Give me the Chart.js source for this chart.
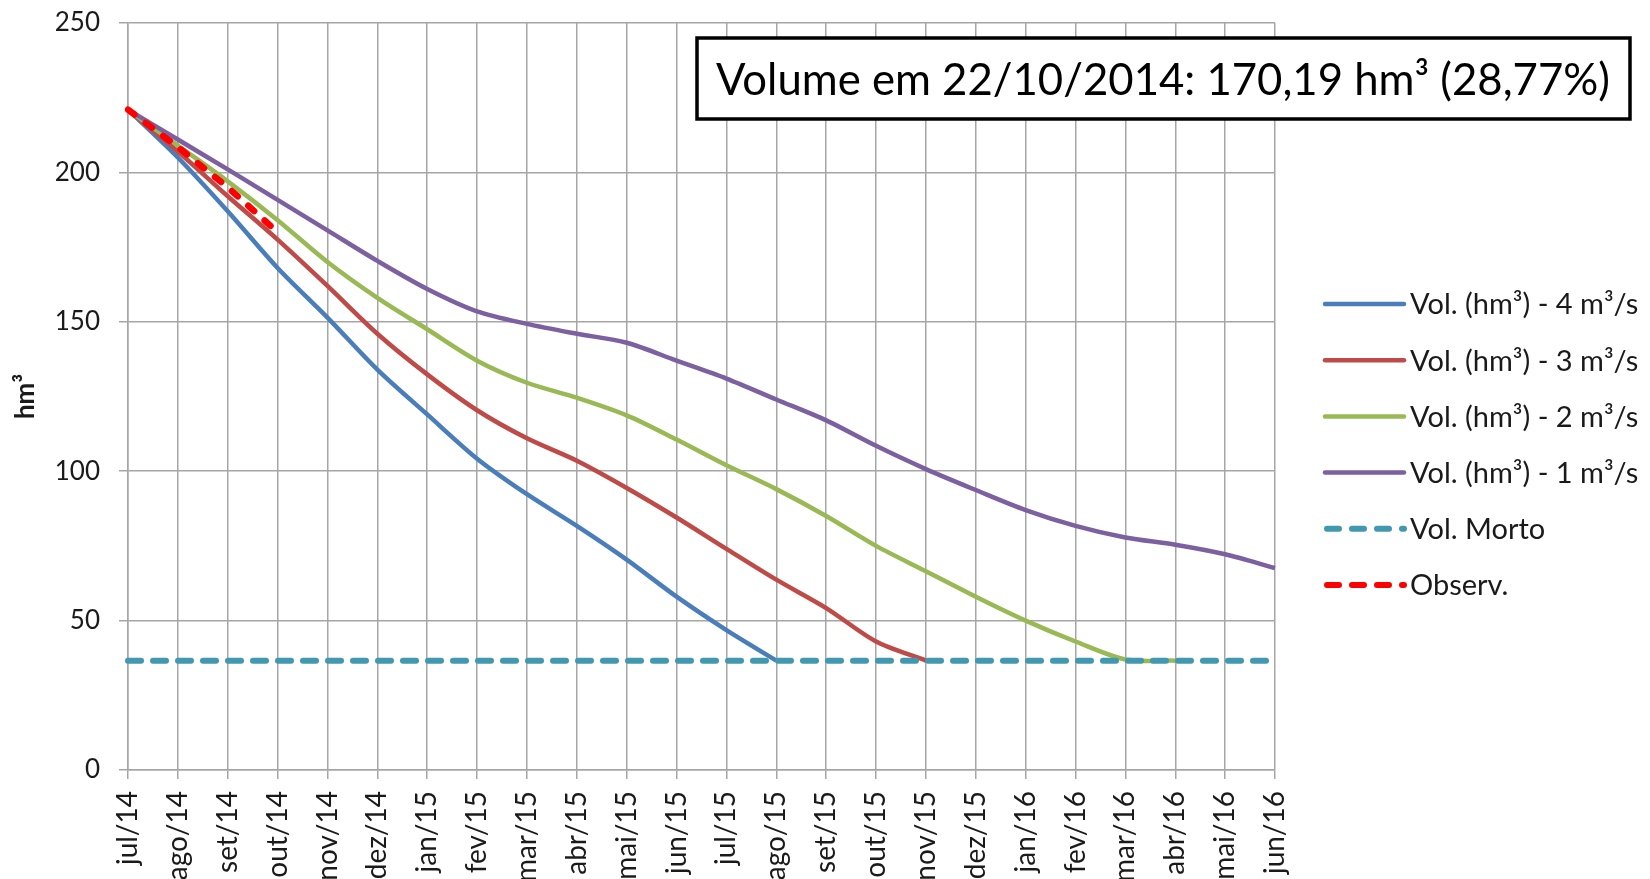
<!DOCTYPE html>
<html><head><meta charset="utf-8">
<script src="https://cdn.jsdelivr.net/npm/chart.js@4/dist/chart.umd.min.js"></script>
<style>html,body{margin:0;padding:0;background:#fff}#wrap{width:1650px;height:879px}</style>
</head><body><div id="wrap"><canvas id="c" width="1650" height="879"></canvas></div>
<script>
const categories = ["jul/14","ago/14","set/14","out/14","nov/14","dez/14","jan/15","fev/15","mar/15","abr/15","mai/15","jun/15","jul/15","ago/15","set/15","out/15","nov/15","dez/15","jan/16","fev/16","mar/16","abr/16","mai/16","jun/16"];
const vol4 = [221,205,187,168,151.4,134,119,104.2,92.3,81.7,70.4,58,46.8,36.6,null,null,null,null,null,null,null,null,null,null];
const vol3 = [221,207,192,177.5,162,146,132.4,120.4,111,103.5,94.4,84.5,74,63.7,54.2,43,36.6,null,null,null,null,null,null,null];
const vol2 = [221,209,197,184,170,158,147.5,137,129.6,124.6,118.7,110.6,102,94,85,75,66.5,58,50,43,37,36.6,null,null];
const vol1 = [221,211,201,190.8,180.6,170.4,161,153.5,149.3,146,143,137,131,124,117,108.5,100.7,93.7,87,81.7,77.8,75.4,72.2,67.6];
const volMorto = [36.6,36.6,36.6,36.6,36.6,36.6,36.6,36.6,36.6,36.6,36.6,36.6,36.6,36.6,36.6,36.6,36.6,36.6,36.6,36.6,36.6,36.6,36.6,36.6];
const observ = [221,208.5,195,180,null,null,null,null,null,null,null,null,null,null,null,null,null,null,null,null,null,null,null,null];
const yTicks = [0,50,100,150,200,250];
const seriesNames = ["Vol. (hm³) - 4 m³/s","Vol. (hm³) - 3 m³/s","Vol. (hm³) - 2 m³/s","Vol. (hm³) - 1 m³/s","Vol. Morto","Observ."];
const annotationText = "Volume em 22/10/2014: 170,19 hm³ (28,77%)";
const yTitle = "hm³";

const FONT = "Lato, 'Open Sans', sans-serif";
const TXT = "#1a1a1a";

function ds(label, data, color, dash, width, order){
  return {label, data, borderColor: color, backgroundColor: color, borderWidth: width,
    borderDash: dash || [], borderCapStyle: dash ? 'round' : 'butt', pointRadius: 0, pointHoverRadius: 0,
    tension: dash ? 0 : 0.3, fill: false, spanGaps: false, order};
}

const extras = {
  id: 'extras',
  afterDraw(chart){
    const ctx = chart.ctx;
    const ca = chart.chartArea;
    // y title
    ctx.save();
    ctx.translate(26, (ca.top + ca.bottom) / 2);
    ctx.rotate(-Math.PI/2);
    ctx.font = "bold 26px " + FONT;
    ctx.fillStyle = TXT;
    ctx.textAlign = 'center';
    ctx.textBaseline = 'middle';
    ctx.fillText(yTitle, 0, 0);
    ctx.restore();
    // legend
    ctx.save();
    const rowY0 = 304, rowStep = 56.2;
    chart.data.datasets.forEach((d, i) => {
      const y = rowY0 + i*rowStep;
      ctx.beginPath();
      ctx.strokeStyle = d.borderColor;
      ctx.lineWidth = d.borderDash.length ? 6 : 4.5;
      ctx.lineCap = 'round';
      ctx.setLineDash(d.borderDash.length ? [12, 13] : []);
      ctx.moveTo(d.borderDash.length ? 1327 : 1325, y);
      ctx.lineTo(1404, y);
      ctx.stroke();
      ctx.setLineDash([]);
      ctx.font = "29px " + FONT;
      ctx.fillStyle = TXT;
      ctx.textAlign = 'left';
      ctx.textBaseline = 'middle';
      ctx.fillText(d.label, 1410, y + 1);
    });
    ctx.restore();
    // annotation box
    ctx.save();
    const bx = 697, by = 38, bw = 933, bh = 81;
    ctx.fillStyle = '#fff';
    ctx.fillRect(bx, by, bw, bh);
    ctx.lineWidth = 3.5;
    ctx.strokeStyle = '#000';
    ctx.strokeRect(bx, by, bw, bh);
    ctx.font = "43.7px " + FONT;
    ctx.fillStyle = '#000';
    ctx.textAlign = 'left';
    ctx.textBaseline = 'alphabetic';
    ctx.fillText(annotationText, 716, 95);
    ctx.restore();
  }
};

new Chart(document.getElementById('c'), {
  type: 'line',
  data: {
    labels: categories,
    datasets: [
      ds(seriesNames[0], vol4, '#4A7EBB', null, 4.5, 6),
      ds(seriesNames[1], vol3, '#BE4B48', null, 4.5, 5),
      ds(seriesNames[2], vol2, '#98B954', null, 4.5, 4),
      ds(seriesNames[3], vol1, '#7D60A0', null, 4.5, 3),
      ds(seriesNames[4], volMorto, '#4198AF', [13, 12], 6, 2),
      ds(seriesNames[5], observ, '#FF0000', [8, 14], 6.5, 1)
    ]
  },
  options: {
    responsive: false,
    animation: false,
    events: [],
    layout: {padding: {left: 0, right: 375, top: 23, bottom: 0}},
    plugins: {legend: {display: false}, tooltip: {enabled: false}},
    scales: {
      x: {
        offset: false,
        grid: {color: '#a6a6a6', lineWidth: 1.5, tickLength: 9, drawTicks: true},
        border: {color: '#a6a6a6', width: 1.5},
        ticks: {autoSkip: false, maxRotation: 90, minRotation: 90, padding: 12,
          font: {family: FONT, size: 28}, color: TXT},
        afterFit(s){ s.height = 109; s.paddingLeft = 0; s.paddingRight = 0; }
      },
      y: {
        min: 0, max: 250,
        afterBuildTicks(s){ s.ticks = yTicks.map(v => ({value: v})); },
        grid: {color: '#a6a6a6', lineWidth: 1.5, tickLength: 9},
        border: {color: '#a6a6a6', width: 1.5},
        ticks: {padding: 19, font: {family: FONT, size: 26}, color: TXT},
        afterFit(s){ s.width = 128; s.paddingTop = 0; s.paddingBottom = 0; }
      }
    }
  },
  plugins: [extras]
});
</script>
</body></html>
